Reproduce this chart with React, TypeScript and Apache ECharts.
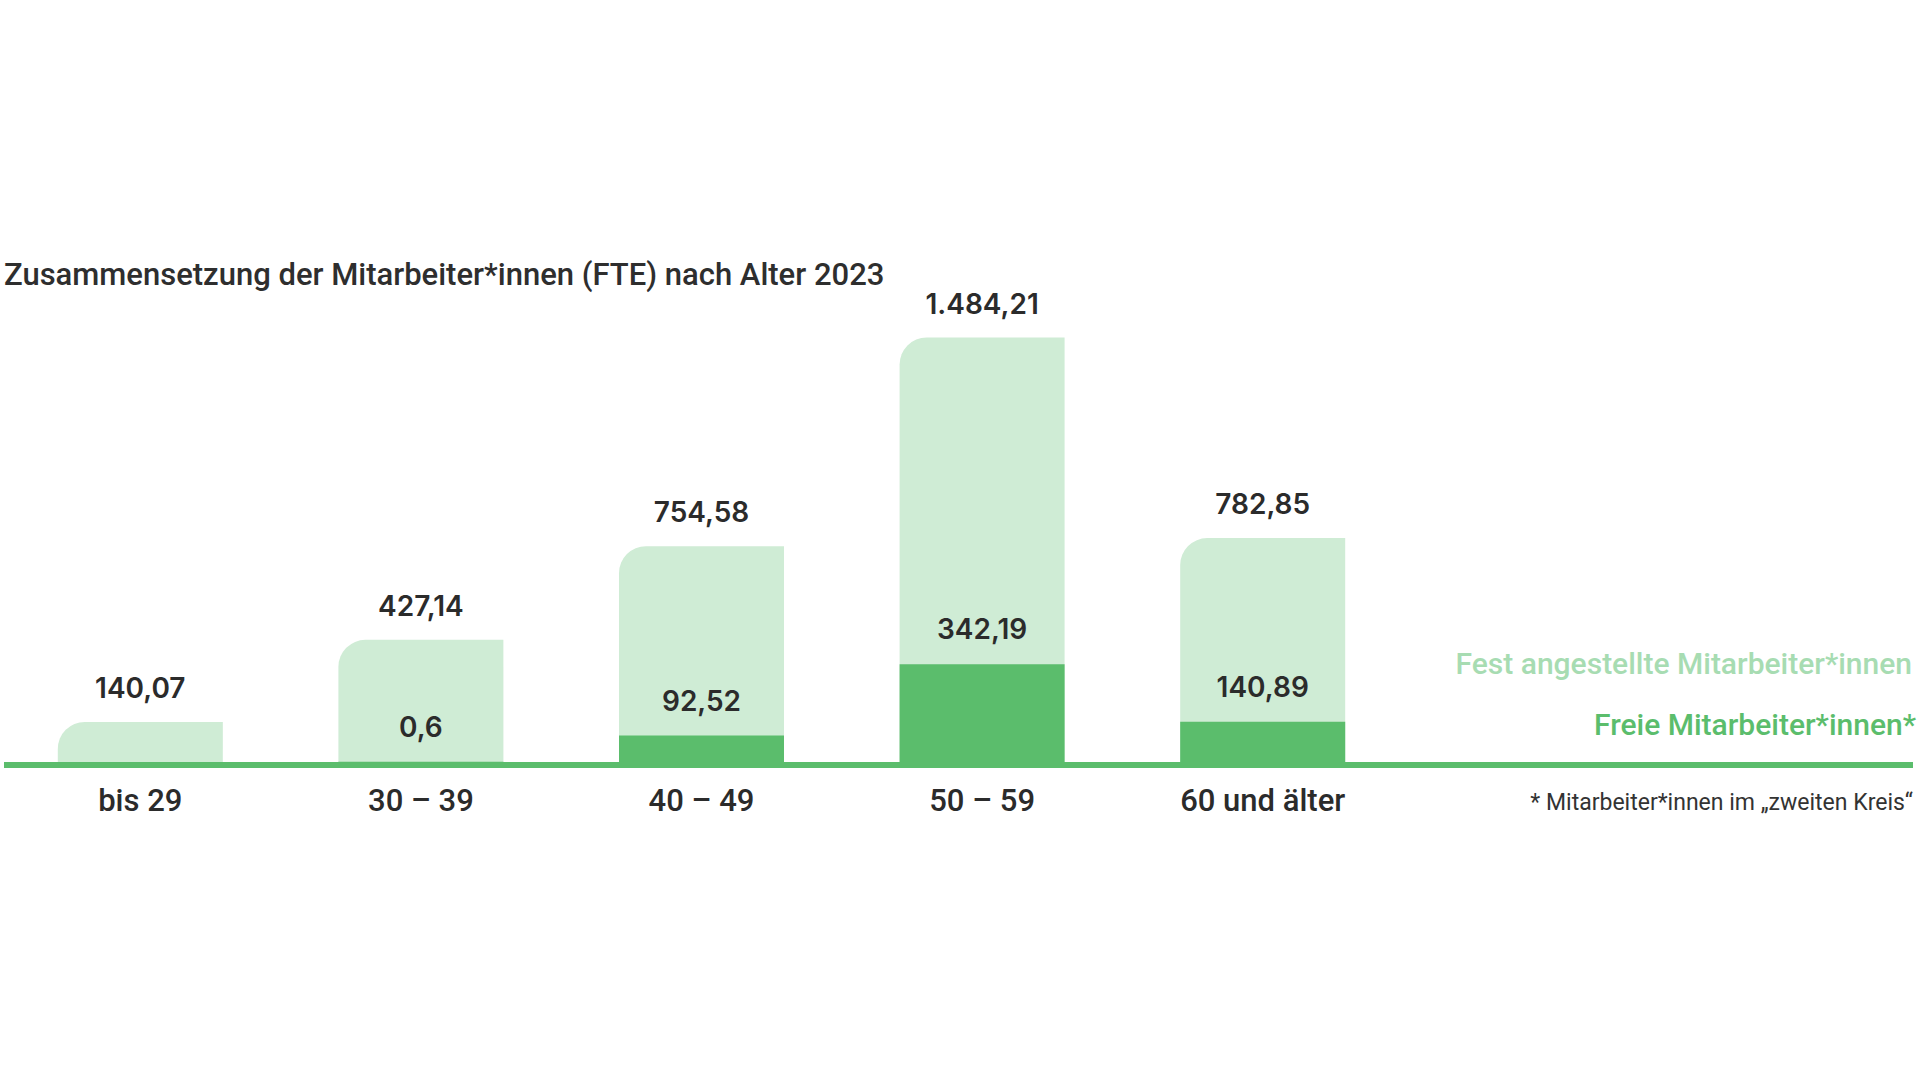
import React, { useEffect, useRef } from "react";
import * as echarts from "echarts";

const categories = ["bis 29", "30 – 39", "40 – 49", "50 – 59", "60 und älter"];
const festValues = [140.07, 427.14, 754.58, 1484.21, 782.85];
const freieValues: (number | null)[] = [null, 0.6, 92.52, 342.19, 140.89];
const seriesNames = ["Fest angestellte Mitarbeiter*innen", "Freie Mitarbeiter*innen*"];
const titleText = "Zusammensetzung der Mitarbeiter*innen (FTE) nach Alter 2023";
const footnoteText = "* Mitarbeiter*innen im „zweiten Kreis“";

const LIGHT = "#cfecd5";
const DARK = "#5bbd6c";
const LEGEND_LIGHT = "#a7dcb2";
const TEXT = "#2b2b2b";

function fmtDe(v: number): string {
  const [intPart, dec] = String(v).split(".");
  const grouped = intPart.replace(/\B(?=(\d{3})+(?!\d))/g, ".");
  return dec ? grouped + "," + dec : grouped;
}

export default function App() {
  const ref = useRef<HTMLDivElement>(null);
  useEffect(() => {
    if (!ref.current) return;
    const chart = echarts.init(ref.current, undefined, { renderer: "svg" });
    const labelStyle = {
      fontFamily: "Inter",
      fontWeight: 600,
      fontSize: 28,
      color: TEXT,
    };
    const legendText = {
      fontFamily: "Roboto",
      fontWeight: 500,
      fontSize: 30,
      lineHeight: 30,
      padding: 0,
    };
    chart.setOption({
      animation: false,
      backgroundColor: "#ffffff",
      title: {
        text: titleText,
        left: 4,
        top: 259,
        padding: 0,
        textStyle: {
          fontFamily: "Roboto",
          fontWeight: 500,
          fontSize: 31,
          color: "#2e2e2e",
        },
      },
      legend: [
        {
          data: [{ name: seriesNames[0], textStyle: { color: LEGEND_LIGHT } }],
          right: 8,
          top: 648,
          padding: 0,
          icon: "none",
          itemWidth: 0,
          itemHeight: 30,
          selectedMode: false,
          textStyle: legendText,
        },
        {
          data: [{ name: seriesNames[1], textStyle: { color: DARK } }],
          right: 4,
          top: 709,
          padding: 0,
          icon: "none",
          itemWidth: 0,
          itemHeight: 30,
          selectedMode: false,
          textStyle: legendText,
        },
      ],
      grid: {
        left: -2,
        width: 1405,
        top: 333,
        bottom: 318,
        containLabel: false,
      },
      xAxis: {
        type: "category",
        data: categories,
        axisLine: { show: false },
        axisTick: { show: false },
        axisLabel: {
          margin: 23,
          fontFamily: "Roboto",
          fontWeight: 500,
          fontSize: 31,
          color: TEXT,
        },
      },
      yAxis: {
        type: "value",
        min: 0,
        max: 1500,
        show: false,
        splitLine: { show: false },
      },
      graphic: [
        {
          type: "line",
          z: 100,
          shape: { x1: 4, y1: 765, x2: 1913, y2: 765 },
          style: { stroke: DARK, lineWidth: 6 },
        },
        {
          type: "text",
          right: 7,
          top: 791,
          style: {
            text: footnoteText,
            font: "400 23px Roboto",
            fill: "#333333",
          },
        },
      ],
      series: [
        {
          name: seriesNames[0],
          type: "bar",
          data: festValues,
          barWidth: 165,
          itemStyle: { color: LIGHT, borderRadius: [27, 0, 0, 0] },
          label: {
            show: true,
            position: "top",
            distance: 20,
            formatter: (p: any) => fmtDe(p.value),
            ...labelStyle,
          },
        },
        {
          name: seriesNames[1],
          type: "bar",
          data: freieValues,
          barWidth: 165,
          barGap: "-100%",
          itemStyle: { color: DARK },
          label: {
            show: true,
            position: "top",
            distance: 21,
            formatter: (p: any) => (p.value == null ? "" : fmtDe(p.value)),
            ...labelStyle,
          },
        },
      ],
    });
    return () => chart.dispose();
  }, []);
  return (
    <div
      ref={ref}
      style={{ position: "fixed", left: 0, top: 0, width: 1920, height: 1080, background: "#fff" }}
    />
  );
}
